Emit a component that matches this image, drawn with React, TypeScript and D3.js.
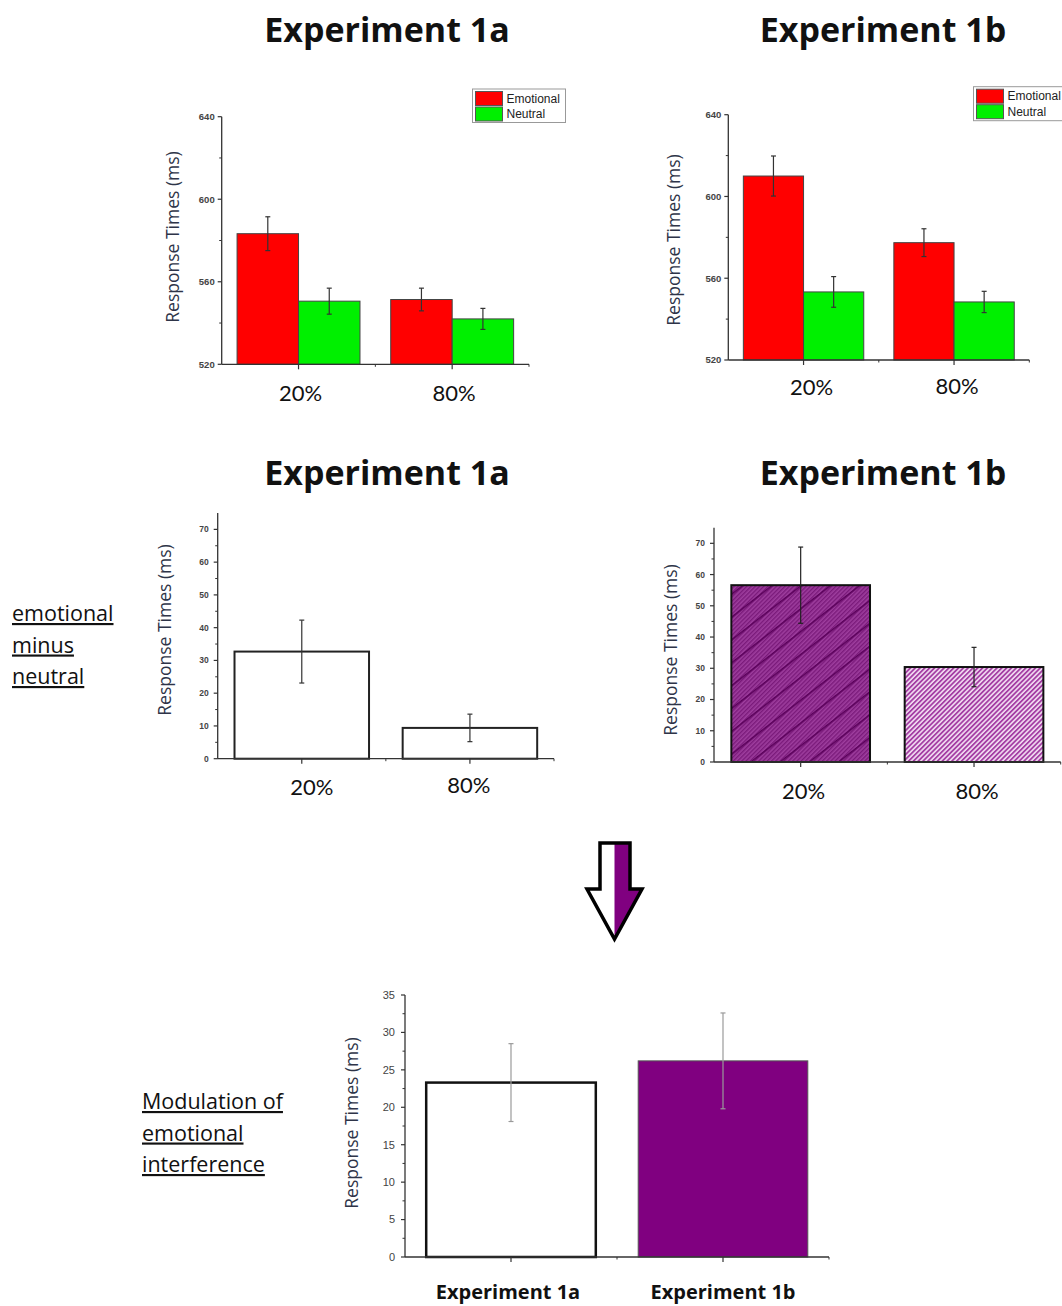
import React from "react";
import * as d3 from "d3";

// ---------------- data ----------------
const categories = ["20%", "80%"];
const seriesNames = ["Emotional", "Neutral"];
const exp1aEmotional = [583.3, 551.4];
const exp1aEmotionalErr = [8.2, 5.5];
const exp1aNeutral = [550.6, 542.0];
const exp1aNeutralErr = [6.3, 5.1];
const exp1bEmotional = [610.0, 577.4];
const exp1bEmotionalErr = [9.8, 6.8];
const exp1bNeutral = [553.3, 548.4];
const exp1bNeutralErr = [7.5, 5.2];
const diff1a = [32.7, 9.4];
const diff1aErr = [9.6, 4.2];
const diff1b = [56.6, 30.4];
const diff1bErr = [12.2, 6.3];
const experiments = ["Experiment 1a", "Experiment 1b"];
const modulation = [23.3, 26.2];
const modulationErr = [5.2, 6.4];
const rtTicks = [520, 560, 600, 640];
const rtMinor = [540, 580, 620];
const diffTicks = [0, 10, 20, 30, 40, 50, 60, 70];
const diffMinor = [5, 15, 25, 35, 45, 55, 65];
const modTicks = [0, 5, 10, 15, 20, 25, 30, 35];
const modMinor = [2.5, 7.5, 12.5, 17.5, 22.5, 27.5, 32.5];

const FONT_C = "Lato, 'Open Sans', sans-serif";
const FONT_O = "'Open Sans', Lato, sans-serif";
const FONT_A = "'Liberation Sans', Arial, sans-serif";
const TITLE_COLOR = "#2e3448";

type Series = {
  name: string;
  values: number[];
  errs: number[];
  fills: string[][];
  strokes: string[];
  strokeWidths: number[];
};

type Cfg = {
  xRange: [number, number];
  yRange: [number, number];
  domain: [number, number];
  cats: string[];
  series: Series[];
  ticks: number[];
  minor: number[];
  tickSize: number;
  tickWeight: string;
  tickGap: number;
  tickColor: string;
  errColor: string;
  catY: number[];
  catDx: number[];
  catSize: number;
  catWeight: string;
  catFont: string;
  yTitleX: number;
  yTitleY: number;
  legend?: { x: number; y: number; w: number; h: number };
};

function BarPanel({ cfg }: { cfg: Cfg }) {
  const y = d3.scaleLinear().domain(cfg.domain).range(cfg.yRange);
  const x = d3
    .scaleBand()
    .domain(cfg.cats)
    .range(cfg.xRange)
    .paddingInner(0.2)
    .paddingOuter(0.1);
  const sub = d3
    .scaleBand()
    .domain(cfg.series.map((s) => s.name))
    .range([0, x.bandwidth()]);
  const y0 = y(cfg.domain[0]);
  const [xa, xb] = cfg.xRange;
  const mid = (xa + xb) / 2;
  const axisColor = "#333";
  return (
    <g>
      {cfg.series.map((s) =>
        cfg.cats.map((c, i) => {
          const bx = (x(c) as number) + (sub(s.name) as number);
          const bw = sub.bandwidth();
          const by = y(s.values[i]);
          return (
            <g key={s.name + c}>
              {s.fills[i].map((f, k) => (
                <rect key={k} x={bx} y={by} width={bw} height={y0 - by} fill={f} />
              ))}
              <rect
                x={bx}
                y={by}
                width={bw}
                height={y0 - by}
                fill="none"
                stroke={s.strokes[i]}
                strokeWidth={s.strokeWidths[i]}
              />
            </g>
          );
        })
      )}
      {cfg.series.map((s) =>
        cfg.cats.map((c, i) => {
          const cx = (x(c) as number) + (sub(s.name) as number) + sub.bandwidth() / 2;
          const top = y(s.values[i] + s.errs[i]);
          const bot = y(s.values[i] - s.errs[i]);
          return (
            <g key={"e" + s.name + c} stroke={cfg.errColor} strokeWidth={1.2}>
              <line x1={cx} x2={cx} y1={top} y2={bot} />
              <line x1={cx - 2.5} x2={cx + 2.5} y1={top} y2={top} />
              <line x1={cx - 2.5} x2={cx + 2.5} y1={bot} y2={bot} />
            </g>
          );
        })
      )}
      <line x1={xa} x2={xa} y1={y0} y2={y(cfg.domain[1])} stroke={axisColor} strokeWidth={1.3} />
      <line x1={xa} x2={xb} y1={y0} y2={y0} stroke={axisColor} strokeWidth={1.3} />
      {cfg.ticks.map((t) => (
        <g key={"t" + t}>
          <line x1={xa - 4} x2={xa} y1={y(t)} y2={y(t)} stroke={axisColor} strokeWidth={1.2} />
          <text
            x={xa - cfg.tickGap}
            y={y(t)}
            dy="0.35em"
            textAnchor="end"
            fontFamily={FONT_A}
            fontSize={cfg.tickSize}
            fontWeight={cfg.tickWeight}
            fill={cfg.tickColor}
          >
            {t}
          </text>
        </g>
      ))}
      {cfg.minor.map((t) => (
        <line key={"m" + t} x1={xa - 2.5} x2={xa} y1={y(t)} y2={y(t)} stroke={axisColor} strokeWidth={1} />
      ))}
      {cfg.cats.map((c) => (
        <line
          key={"xt" + c}
          x1={(x(c) as number) + x.bandwidth() / 2}
          x2={(x(c) as number) + x.bandwidth() / 2}
          y1={y0}
          y2={y0 + 5}
          stroke={axisColor}
          strokeWidth={1.2}
        />
      ))}
      <line x1={mid} x2={mid} y1={y0} y2={y0 + 2.5} stroke={axisColor} strokeWidth={1} />
      <line x1={xb} x2={xb} y1={y0} y2={y0 + 2.5} stroke={axisColor} strokeWidth={1} />
      {cfg.cats.map((c, i) => (
        <text
          key={"cl" + c}
          x={(x(c) as number) + x.bandwidth() / 2 + cfg.catDx[i]}
          y={cfg.catY[i]}
          textAnchor="middle"
          fontFamily={cfg.catFont}
          fontSize={cfg.catSize}
          fontWeight={cfg.catWeight}
          fill="#111"
        >
          {c}
        </text>
      ))}
      <text
        transform={`translate(${cfg.yTitleX},${cfg.yTitleY}) rotate(-90)`}
        textAnchor="middle"
        dy="0.35em"
        fontFamily={FONT_O}
        fontSize={17.5}
        fill={TITLE_COLOR}
      >
        Response Times (ms)
      </text>
      {cfg.legend && (
        <g>
          <rect
            x={cfg.legend.x}
            y={cfg.legend.y}
            width={cfg.legend.w}
            height={cfg.legend.h}
            fill="#fff"
            stroke="#999"
            strokeWidth={1}
          />
          {cfg.series.map((s, k) => (
            <g key={"lg" + s.name}>
              <rect
                x={cfg.legend!.x + 3}
                y={cfg.legend!.y + 2.5 + k * 15.5}
                width={27}
                height={14}
                fill={s.fills[0][0]}
                stroke="#555"
                strokeWidth={1}
              />
              <text
                x={cfg.legend!.x + 34}
                y={cfg.legend!.y + 9.5 + k * 15.5}
                dy="0.35em"
                fontFamily={FONT_A}
                fontSize={12}
                fill="#222"
              >
                {s.name}
              </text>
            </g>
          ))}
        </g>
      )}
    </g>
  );
}

function groupSeries(emo: number[], emoErr: number[], neu: number[], neuErr: number[]): Series[] {
  return [
    {
      name: seriesNames[0],
      values: emo,
      errs: emoErr,
      fills: [["#ff0000"], ["#ff0000"]],
      strokes: ["#444", "#444"],
      strokeWidths: [1, 1],
    },
    {
      name: seriesNames[1],
      values: neu,
      errs: neuErr,
      fills: [["#00f000"], ["#00f000"]],
      strokes: ["#444", "#444"],
      strokeWidths: [1, 1],
    },
  ];
}

const topLeft: Cfg = {
  xRange: [221.7, 529],
  yRange: [364.3, 116.7],
  domain: [520, 640],
  cats: categories,
  series: groupSeries(exp1aEmotional, exp1aEmotionalErr, exp1aNeutral, exp1aNeutralErr),
  ticks: rtTicks,
  minor: rtMinor,
  tickSize: 9.5,
  tickWeight: "bold",
  tickGap: 7,
  tickColor: "#444",
  errColor: "#333",
  catY: [401, 401],
  catDx: [2, 2],
  catSize: 22,
  catWeight: "normal",
  catFont: FONT_C,
  yTitleX: 173,
  yTitleY: 237,
  legend: { x: 472.5, y: 89, w: 93, h: 33.5 },
};

const topRight: Cfg = {
  xRange: [728.3, 1029.3],
  yRange: [360, 114.7],
  domain: [520, 640],
  cats: categories,
  series: groupSeries(exp1bEmotional, exp1bEmotionalErr, exp1bNeutral, exp1bNeutralErr),
  ticks: rtTicks,
  minor: rtMinor,
  tickSize: 9.5,
  tickWeight: "bold",
  tickGap: 7,
  tickColor: "#444",
  errColor: "#333",
  catY: [395, 394],
  catDx: [8, 3],
  catSize: 22,
  catWeight: "normal",
  catFont: FONT_C,
  yTitleX: 673.5,
  yTitleY: 240,
  legend: { x: 973.5, y: 86.7, w: 95, h: 34 },
};

const midLeft: Cfg = {
  xRange: [217.7, 554],
  yRange: [758.7, 513],
  domain: [0, 75],
  cats: categories,
  series: [
    {
      name: "diff",
      values: diff1a,
      errs: diff1aErr,
      fills: [["#fff"], ["#fff"]],
      strokes: ["#222", "#222"],
      strokeWidths: [2, 2],
    },
  ],
  ticks: diffTicks,
  minor: diffMinor,
  tickSize: 8.5,
  tickWeight: "bold",
  tickGap: 9,
  tickColor: "#444",
  errColor: "#333",
  catY: [795, 793],
  catDx: [10, -1],
  catSize: 22,
  catWeight: "normal",
  catFont: FONT_C,
  yTitleX: 165,
  yTitleY: 630,
};

const midRight: Cfg = {
  xRange: [714, 1060.7],
  yRange: [762, 527.7],
  domain: [0, 75],
  cats: categories,
  series: [
    {
      name: "diff",
      values: diff1b,
      errs: diff1bErr,
      fills: [["url(#fineDark)", "url(#wideDark)"], ["url(#fineLight)"]],
      strokes: ["#111", "#111"],
      strokeWidths: [2, 2],
    },
  ],
  ticks: diffTicks,
  minor: diffMinor,
  tickSize: 8.5,
  tickWeight: "bold",
  tickGap: 9,
  tickColor: "#444",
  errColor: "#222",
  catY: [799, 799],
  catDx: [3, 3],
  catSize: 22,
  catWeight: "normal",
  catFont: FONT_C,
  yTitleX: 670.7,
  yTitleY: 650,
};

const bottom: Cfg = {
  xRange: [405, 829],
  yRange: [1257, 995],
  domain: [0, 35],
  cats: experiments,
  series: [
    {
      name: "mod",
      values: modulation,
      errs: modulationErr,
      fills: [["#fff"], ["#800080"]],
      strokes: ["#111", "#555"],
      strokeWidths: [2.5, 1],
    },
  ],
  ticks: modTicks,
  minor: modMinor,
  tickSize: 11,
  tickWeight: "normal",
  tickGap: 10,
  tickColor: "#444",
  errColor: "#9a9a9a",
  catY: [1299, 1299],
  catDx: [-3, 0],
  catSize: 20,
  catWeight: "bold",
  catFont: FONT_O,
  yTitleX: 352,
  yTitleY: 1123,
};

function Underlined({ x, y, lines, size }: { x: number; y: number; lines: string[]; size: number }) {
  return (
    <g>
      {lines.map((l, i) => (
        <text
          key={l}
          x={x}
          y={y + i * 31.5}
          fontFamily={FONT_O}
          fontSize={size}
          fill="#111"
          textDecoration="underline"
        >
          {l}
        </text>
      ))}
    </g>
  );
}

const titles = [
  { t: "Experiment 1a", x: 387, y: 42 },
  { t: "Experiment 1b", x: 883, y: 42 },
  { t: "Experiment 1a", x: 387, y: 485 },
  { t: "Experiment 1b", x: 883, y: 485 },
];

export default function App() {
  return (
    <div style={{ position: "absolute", left: 0, top: 0 }}>
      <svg width={1062} height={1306} style={{ display: "block", background: "#fff" }}>
        <defs>
          <pattern id="fineDark" width={3} height={3} patternUnits="userSpaceOnUse" patternTransform="rotate(-45)">
            <rect width={3} height={3} fill="#9e3e9e" />
            <rect width={3} height={1.4} fill="#7a1a7a" />
          </pattern>
          <pattern id="wideDark" width={18} height={18} patternUnits="userSpaceOnUse" patternTransform="rotate(-38)">
            <rect width={18} height={1.6} fill="#5a005a" />
          </pattern>
          <pattern id="fineLight" width={3.4} height={3.4} patternUnits="userSpaceOnUse" patternTransform="rotate(-45)">
            <rect width={3.4} height={3.4} fill="#f2dcf2" />
            <rect width={3.4} height={1.8} fill="#a43ea4" />
          </pattern>
        </defs>

        {titles.map((d, i) => (
          <text
            key={i}
            x={d.x}
            y={d.y}
            textAnchor="middle"
            fontFamily={FONT_O}
            fontSize={34}
            fontWeight="bold"
            fill="#111"
          >
            {d.t}
          </text>
        ))}

        <BarPanel cfg={topLeft} />
        <BarPanel cfg={topRight} />
        <BarPanel cfg={midLeft} />
        <BarPanel cfg={midRight} />
        <BarPanel cfg={bottom} />

        <Underlined x={12} y={621} lines={["emotional", "minus", "neutral"]} size={21.5} />
        <Underlined x={142} y={1109} lines={["Modulation of", "emotional", "interference"]} size={21.5} />

        <polygon points="600,843 614.5,843 614.5,939 587,889 600,889" fill="#fff" />
        <polygon points="614.5,843 630,843 630,889 642,889 614.5,939" fill="#800080" />
        <path
          d="M600,843 H630 V889 H642 L614.5,939 L587,889 H600 Z"
          fill="none"
          stroke="#000"
          strokeWidth={3.5}
          strokeLinejoin="miter"
        />
      </svg>
    </div>
  );
}
